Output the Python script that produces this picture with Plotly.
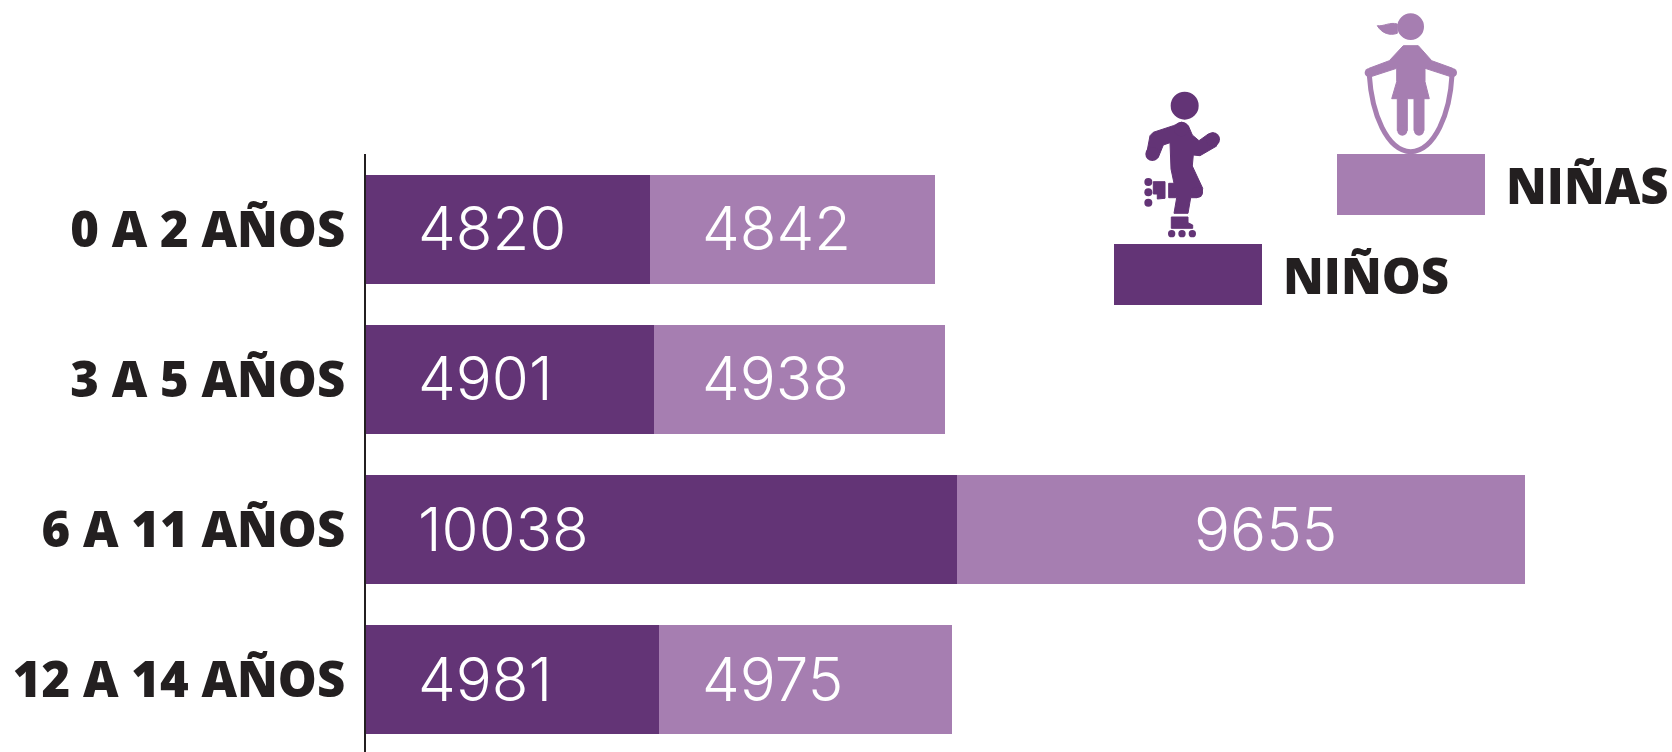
import plotly.graph_objects as go

# ---- data ----
categories = ["0 A 2 AÑOS", "3 A 5 AÑOS", "6 A 11 AÑOS", "12 A 14 AÑOS"]
ninos = [4820, 4901, 10038, 4981]
ninas = [4842, 4938, 9655, 4975]
legend_labels = ["NIÑOS", "NIÑAS"]

DARK = "#633476"
LIGHT = "#A67EB1"
INK = "#231F20"
W, H = 1672, 752
LABEL_FONT = dict(family="Open Sans", size=49, color=INK, weight=800)
VALUE_FONT = dict(family="Inter", size=60, color="white", weight=300)

fig = go.Figure()
fig.add_bar(y=categories, x=ninos, name=legend_labels[0], orientation="h",
            marker=dict(color=DARK, line_width=0), width=0.724)
fig.add_bar(y=categories, x=ninas, name=legend_labels[1], orientation="h",
            marker=dict(color=LIGHT, line_width=0), width=0.724)

# value labels
light_shift = [50, 46, 235, 41]
for c, a, b, s in zip(categories, ninos, ninas, light_shift):
    fig.add_annotation(x=0, y=c, text=str(a), xref="x", yref="y", showarrow=False,
                       xanchor="left", xshift=50, yshift=1, font=VALUE_FONT)
    fig.add_annotation(x=a, y=c, text=str(b), xref="x", yref="y", showarrow=False,
                       xanchor="left", xshift=s, yshift=1, font=VALUE_FONT)

# ---- pictograms, in pixel space of an invisible overlay axis ----
def tf(points, ox, oy):
    return [(ox + x / 3, oy + y / 3) for x, y in points]

def poly(points, ox, oy):
    p = tf(points, ox, oy)
    return "M" + " L".join(f"{x:.1f},{y:.1f}" for x, y in p) + " Z"

def px_shape(**kw):
    fig.add_shape(xref="x2", yref="y2", layer="above", **kw)

def blob(path, color):
    px_shape(type="path", path=path, fillcolor=color, line=dict(color=color, width=1))

def disc(cx, cy, r, ox, oy, color):
    x, y = ox + cx / 3, oy + cy / 3
    px_shape(type="circle", x0=x - r / 3, x1=x + r / 3, y0=y - r / 3, y1=y + r / 3,
             fillcolor=color, line_width=0)

# boy on skates
BX, BY = 1100, 70
disc(254, 107, 42, BX, BY, DARK)
boy = [(220, 167), (245, 157), (265, 167), (277, 195), (297, 212), (325, 192), (340, 188),
       (350, 228), (300, 257), (280, 255), (277, 288), (308, 355),
       (305, 375), (290, 383), (272, 383), (264, 430), (222, 430), (230, 383), (206, 383),
       (206, 340), (222, 340), (213, 297), (210, 218), (190, 225), (175, 262), (140, 250),
       (150, 197), (160, 187)]
blob(poly(boy, BX, BY), DARK)
disc(339, 208, 21, BX, BY, DARK)
disc(157, 252, 21, BX, BY, DARK)
disc(245, 177, 22, BX, BY, DARK)
disc(292, 367, 17, BX, BY, DARK)
blob(poly([(160, 335), (195, 335), (195, 385), (172, 387), (172, 372), (160, 372)], BX, BY), DARK)
blob(poly([(214, 441), (264, 441), (264, 458), (278, 465), (278, 475), (214, 475)], BX, BY), DARK)
for cy in (336, 367, 398):
    disc(145, cy, 12, BX, BY, DARK)
for cx in (215, 246, 277):
    disc(cx, 491, 11, BX, BY, DARK)

# girl with skipping rope
GX, GY = 1340, 0
disc(212, 80, 40, GX, GY, LIGHT)
a = tf([(112, 77), (130, 80), (150, 65), (172, 72), (172, 100), (150, 108), (125, 100)], GX, GY)
blob(f"M{a[0][0]:.1f},{a[0][1]:.1f} C{a[1][0]:.1f},{a[1][1]:.1f} {a[2][0]:.1f},{a[2][1]:.1f} {a[3][0]:.1f},{a[3][1]:.1f} "
     f"L{a[4][0]:.1f},{a[4][1]:.1f} C{a[5][0]:.1f},{a[5][1]:.1f} {a[6][0]:.1f},{a[6][1]:.1f} {a[0][0]:.1f},{a[0][1]:.1f} Z", LIGHT)
girl = [(190, 137), (235, 137), (275, 182), (338, 205), (338, 232), (255, 205),
        (255, 245), (268, 296), (252, 296), (252, 392), (222, 392), (222, 296),
        (202, 296), (202, 392), (172, 392), (172, 296), (155, 296), (170, 245),
        (170, 205), (87, 232), (87, 205), (148, 182)]
blob(poly(girl, GX, GY), LIGHT)
disc(187, 392, 15, GX, GY, LIGHT)
disc(237, 392, 15, GX, GY, LIGHT)
disc(338, 218, 13, GX, GY, LIGHT)
disc(87, 218, 13, GX, GY, LIGHT)
r = tf([(88, 225), (95, 340), (140, 452), (212, 455), (285, 452), (330, 340), (336, 225)], GX, GY)
px_shape(type="path",
         path=f"M{r[0][0]:.1f},{r[0][1]:.1f} C{r[1][0]:.1f},{r[1][1]:.1f} {r[2][0]:.1f},{r[2][1]:.1f} {r[3][0]:.1f},{r[3][1]:.1f} "
              f"C{r[4][0]:.1f},{r[4][1]:.1f} {r[5][0]:.1f},{r[5][1]:.1f} {r[6][0]:.1f},{r[6][1]:.1f}",
         line=dict(color=LIGHT, width=5))

# legend swatches and labels
px_shape(type="rect", x0=1114, x1=1262, y0=244, y1=305, fillcolor=DARK, line_width=0)
px_shape(type="rect", x0=1337, x1=1485, y0=154, y1=215, fillcolor=LIGHT, line_width=0)
fig.add_annotation(x=1281, y=275, xref="x2", yref="y2", text=legend_labels[0], showarrow=False,
                   xanchor="left", font=LABEL_FONT)
fig.add_annotation(x=1504, y=185, xref="x2", yref="y2", text=legend_labels[1], showarrow=False,
                   xanchor="left", font=LABEL_FONT)

fig.update_layout(
    width=W, height=H, barmode="stack", showlegend=False,
    margin=dict(l=0, r=0, t=0, b=0), paper_bgcolor="white", plot_bgcolor="rgba(0,0,0,0)",
    xaxis=dict(domain=[366 / W, 1], range=[0, (W - 366) / 0.05884], visible=False, automargin=False),
    yaxis=dict(domain=[0, 1 - 154 / H], range=[3.483, -0.503], type="category",
               categoryorder="array", categoryarray=categories, automargin=False,
               showline=True, linecolor=INK, linewidth=2, showgrid=False, zeroline=False,
               ticks="", ticklabelstandoff=9, tickfont=LABEL_FONT),
    xaxis2=dict(domain=[0, 1], range=[0, W], visible=False, anchor="y2", automargin=False),
    yaxis2=dict(domain=[0, 1], range=[H, 0], visible=False, anchor="x2", automargin=False),
)
# an invisible trace so the overlay axes exist
fig.add_scatter(x=[None], y=[None], xaxis="x2", yaxis="y2", showlegend=False, hoverinfo="skip")
fig.write_html("out.html", config=dict(displayModeBar=False),
               post_script="document.documentElement.style.overflow='hidden';document.body.style.margin='0';")
